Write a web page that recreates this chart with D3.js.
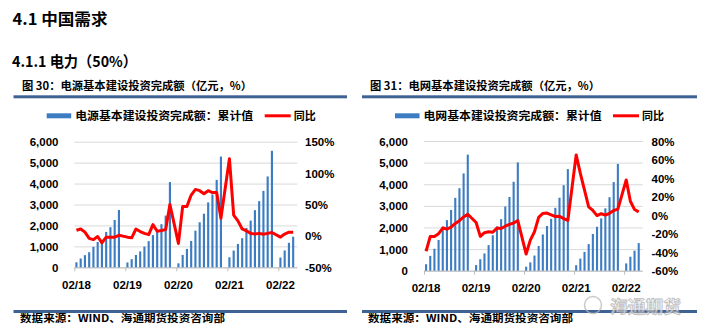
<!DOCTYPE html>
<html>
<head>
<meta charset="utf-8">
<script src="https://cdn.jsdelivr.net/npm/d3@7"></script>
<style>
  body { margin: 0; background: #fff; }
  svg { display: block; }
  .num { font-family: "Liberation Sans", Arial, sans-serif; font-weight: bold; font-size: 11.5px; fill: #000; }
  .cn { font-family: "Noto Sans CJK SC", sans-serif; font-weight: bold; fill: #000; }
</style>
</head>
<body>
<div id="chart"></div>
<script>
// months with data (Jan is merged into Feb, so no Jan points)
var months = [
  "2018-02","2018-03","2018-04","2018-05","2018-06","2018-07","2018-08","2018-09","2018-10","2018-11","2018-12",
  "2019-02","2019-03","2019-04","2019-05","2019-06","2019-07","2019-08","2019-09","2019-10","2019-11","2019-12",
  "2020-02","2020-03","2020-04","2020-05","2020-06","2020-07","2020-08","2020-09","2020-10","2020-11","2020-12",
  "2021-02","2021-03","2021-04","2021-05","2021-06","2021-07","2021-08","2021-09","2021-10","2021-11","2021-12",
  "2022-02","2022-03","2022-04","2022-05"
];
var xTickLabels = ["02/18", "02/19", "02/20", "02/21", "02/22"];

// 电源基本建设投资完成额：累计值 (亿元) and 同比 (%)
var sourceCum = [
  240, 420, 580, 720, 980, 1210, 1310, 1690, 1915, 2260, 2740,
  230, 390, 590, 760, 990, 1250, 1540, 1720, 2060, 2470, 4070,
  190, 590, 877, 1260, 1750, 2150, 2560, 3100, 3480, 4175, 5290,
  480, 800, 1115, 1390, 1880, 2230, 2730, 3160, 3650, 4340, 5565,
  465, 805, 1170, 1460
];
var sourceYoY = [
  9, 11, 6, -4, -6, -1, -11, -2, -2, -2, 1,
  -2, -3, 11, 7, 4, 2, 18, 7.5, 8.5, 10, 50,
  -12, 47, 47, 65, 74, 72, 67, 72, 69, 69, 28,
  123, 33, 24, 11, 8, 4, 3, 4, 2.5, 4, 5.5,
  -2, 3, 6, 6
];

// 电网基本建设投资完成额：累计值 (亿元) and 同比 (%)
var gridCum = [
  300, 685, 1015, 1420, 2040, 2340, 2810, 3370, 3815, 4500, 5370,
  262, 530, 800, 1185, 1640, 2045, 2385, 2970, 3410, 4115, 5010,
  185, 385, 700, 1145, 1677, 2070, 2400, 2908, 3378, 3954, 4700,
  255, 560, 870, 1230, 1700, 2030, 2420, 2885, 3400, 4100, 4940,
  338, 646, 923, 1275
];
var gridYoY = [
  -39, -23, -23, -20, -14, -15, -13, -9, -6, -2, 1,
  -8, -23, -19, -18, -18.5, -14, -14.5, -12, -10, -8.5, -6,
  -42, -27, -18, -2.5, 1.8, 2.2, 0.2, -1.5, -1.2, -3.8, -5.8,
  65, 45, 27, 9, 5, -0.5, 1.5, 0, 2, 5, 6.5,
  38, 15, 6, 3.5
];

var leftTicks = [0, 1000, 2000, 3000, 4000, 5000, 6000];
var sourcePctTicks = [-50, 0, 50, 100, 150];
var gridPctTicks = [-60, -40, -20, 0, 20, 40, 60, 80];

var W = 701, H = 328;
var svg = d3.select("#chart").append("svg")
  .attr("width", W)
  .attr("height", H);

// month slot index from Feb 2018
function slot(m) {
  var p = m.split("-");
  return (+p[0] - 2018) * 12 + (+p[1] - 2);
}
var nSlots = 52;

// page headings
svg.append("text").attr("class", "cn").attr("x", 12.5).attr("y", 25)
  .attr("font-size", 15.5).attr("textLength", 95).attr("lengthAdjust", "spacingAndGlyphs")
  .text("4.1 中国需求");
svg.append("text").attr("class", "cn").attr("x", 12).attr("y", 67)
  .attr("font-size", 15).attr("textLength", 125).attr("lengthAdjust", "spacingAndGlyphs")
  .text("4.1.1 电力（50%）");

function drawChart(o) {
  var g = svg.append("g");

  // title + rules
  g.append("text").attr("class", "cn").attr("x", o.titleX).attr("y", 90)
    .attr("font-size", 11).attr("textLength", 230).attr("lengthAdjust", "spacingAndGlyphs")
    .text(o.title);
  g.append("rect").attr("x", o.ruleX0).attr("y", 95.3).attr("width", o.ruleX1 - o.ruleX0)
    .attr("height", 3).attr("fill", "#3e6294");
  g.append("rect").attr("x", o.ruleX0).attr("y", 310).attr("width", o.ruleX1 - o.ruleX0)
    .attr("height", 3).attr("fill", "#3e6294");
  g.append("text").attr("class", "cn").attr("x", o.titleX - 2).attr("y", 322)
    .attr("font-size", 10.5).attr("textLength", 205).attr("lengthAdjust", "spacingAndGlyphs")
    .text("数据来源：WIND、海通期货投资咨询部");

  var x = d3.scaleBand().domain(d3.range(nSlots))
    .range([o.x0, o.x1]).paddingInner(0.5).paddingOuter(0.25);
  var xl = d3.scaleLinear().domain([0, nSlots]).range([o.x0, o.x1]);
  var y = d3.scaleLinear().domain([0, 6000]).range([o.y0, o.yTop]);
  var y2 = d3.scaleLinear().domain([o.pctTicks[0], o.pctTicks[o.pctTicks.length - 1]]).range([o.y0, o.yTop]);

  // gridlines
  g.append("g")
    .attr("transform", "translate(" + o.x0 + ",0)")
    .call(d3.axisLeft(y).tickValues(leftTicks).tickSize(-(o.x1 - o.x0 + 2)).tickFormat(""))
    .call(s => s.select(".domain").remove())
    .call(s => s.selectAll("line").attr("stroke", "#d9d9d9").attr("stroke-width", 1));

  // left axis labels
  g.append("g")
    .attr("transform", "translate(" + o.leftLabelX + ",0)")
    .call(d3.axisLeft(y).tickValues(leftTicks).tickSize(0).tickFormat(d3.format(",")))
    .call(s => s.select(".domain").remove())
    .call(s => s.selectAll("text").attr("class", "num").attr("x", 0).attr("dy", "0.35em"));

  // right axis labels
  g.append("g")
    .attr("transform", "translate(" + o.rightLabelX + ",0)")
    .call(d3.axisRight(y2).tickValues(o.pctTicks).tickSize(0).tickFormat(d => d + "%"))
    .call(s => s.select(".domain").remove())
    .call(s => s.selectAll("text").attr("class", "num").attr("x", 0).attr("dy", "0.35em"));

  // x axis: tick marks at year starts, labels at Feb slots
  g.append("g")
    .attr("transform", "translate(0," + o.y0 + ")")
    .call(d3.axisBottom(xl).tickValues([0, 12, 24, 36, 48]).tickSize(4).tickFormat(""))
    .call(s => s.select(".domain").attr("stroke", "#bfbfbf").attr("d", "M" + o.x0 + ",0.5H" + (o.x1 + 2)))
    .call(s => s.selectAll("line").attr("stroke", "#bfbfbf"));
  g.append("g")
    .attr("transform", "translate(0," + o.y0 + ")")
    .call(d3.axisBottom(x).tickValues([0, 12, 24, 36, 48]).tickSize(0)
      .tickFormat((d, i) => xTickLabels[i]))
    .call(s => s.select(".domain").remove())
    .call(s => s.selectAll("text").attr("class", "num").attr("y", o.xLabelDy).attr("dy", 0));

  // bars
  g.append("g").selectAll("rect")
    .data(o.cum)
    .enter().append("rect")
    .attr("x", (d, i) => x(slot(months[i])))
    .attr("y", d => y(d))
    .attr("width", x.bandwidth())
    .attr("height", d => o.y0 - y(d))
    .attr("fill", "#3b7cc2");

  // yoy line
  var line = d3.line()
    .x((d, i) => x(slot(months[i])) + x.bandwidth() / 2)
    .y(d => y2(d));
  g.append("path")
    .datum(o.yoy)
    .attr("d", line)
    .attr("fill", "none")
    .attr("stroke", "#ff0000")
    .attr("stroke-width", 3)
    .attr("stroke-linejoin", "round");

  // legend
  var lg = g.append("g");
  lg.append("rect").attr("x", o.legX).attr("y", 113.3).attr("width", 24.5).attr("height", 5)
    .attr("fill", "#3b7cc2");
  lg.append("text").attr("class", "cn").attr("x", o.legX + 28.5).attr("y", 120)
    .attr("font-size", 11).attr("textLength", 178).attr("lengthAdjust", "spacingAndGlyphs")
    .text(o.legendName);
  lg.append("line").attr("x1", o.legX + 218).attr("x2", o.legX + 244)
    .attr("y1", 115.8).attr("y2", 115.8)
    .attr("stroke", "#ff0000").attr("stroke-width", 3);
  lg.append("text").attr("class", "cn").attr("x", o.legX + 247).attr("y", 120)
    .attr("font-size", 11).attr("textLength", 22).attr("lengthAdjust", "spacingAndGlyphs")
    .text("同比");
}

drawChart({
  title: "图 30：电源基本建设投资完成额（亿元，%）",
  legendName: "电源基本建设投资完成额：累计值",
  titleX: 22, ruleX0: 13.5, ruleX1: 347,
  x0: 74.3, x1: 295.3, y0: 267.3, yTop: 141.7,
  leftLabelX: 58.5, rightLabelX: 305, xLabelDy: 21.5,
  legX: 46.7,
  pctTicks: sourcePctTicks,
  cum: sourceCum, yoy: sourceYoY
});

drawChart({
  title: "图 31：电网基本建设投资完成额（亿元，%）",
  legendName: "电网基本建设投资完成额：累计值",
  titleX: 370, ruleX0: 362, ruleX1: 697,
  x0: 424, x1: 640.8, y0: 270.7, yTop: 141,
  leftLabelX: 408, rightLabelX: 651.5, xLabelDy: 21.5,
  legX: 395,
  pctTicks: gridPctTicks,
  cum: gridCum, yoy: gridYoY
});

// watermark
var wm = svg.append("g").attr("opacity", 0.75);
wm.append("circle").attr("cx", 593).attr("cy", 305).attr("r", 8.5)
  .attr("fill", "none").attr("stroke", "#b8b8b8").attr("stroke-width", 1.5);
wm.append("text").attr("class", "cn").attr("x", 610).attr("y", 313)
  .attr("font-size", 17).attr("textLength", 71).attr("lengthAdjust", "spacingAndGlyphs")
  .style("fill", "#f2f2f2").attr("stroke", "#a8a8a8").attr("stroke-width", 0.8)
  .text("海通期货");
</script>
</body>
</html>
